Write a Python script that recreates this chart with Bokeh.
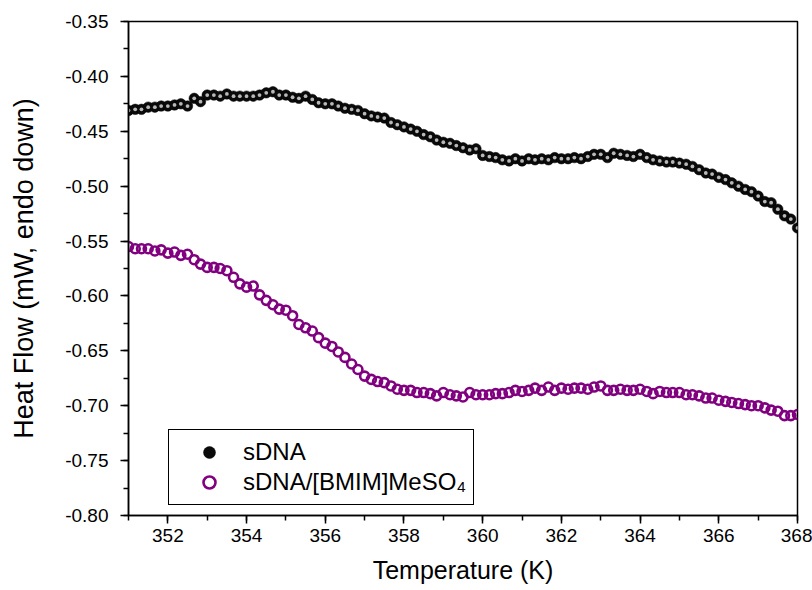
from bokeh.plotting import figure
from bokeh.models import (Range1d, SingleIntervalTicker, PrintfTickFormatter,
                          Legend, LegendItem, ColumnDataSource)
from bokeh.embed import file_html
from bokeh.resources import INLINE

# Temperature (K)
temperature = [
    351.00, 351.17, 351.33, 351.50, 351.67, 351.83,
    352.00, 352.17, 352.33, 352.50, 352.67, 352.83,
    353.00, 353.17, 353.33, 353.50, 353.67, 353.83,
    354.00, 354.17, 354.33, 354.50, 354.67, 354.83,
    355.00, 355.17, 355.33, 355.50, 355.67, 355.83,
    356.00, 356.17, 356.33, 356.50, 356.67, 356.83,
    357.00, 357.17, 357.33, 357.50, 357.67, 357.83,
    358.00, 358.17, 358.33, 358.50, 358.67, 358.83,
    359.00, 359.17, 359.33, 359.50, 359.67, 359.83,
    360.00, 360.17, 360.33, 360.50, 360.67, 360.83,
    361.00, 361.17, 361.33, 361.50, 361.67, 361.83,
    362.00, 362.17, 362.33, 362.50, 362.67, 362.83,
    363.00, 363.17, 363.33, 363.50, 363.67, 363.83,
    364.00, 364.17, 364.33, 364.50, 364.67, 364.83,
    365.00, 365.17, 365.33, 365.50, 365.67, 365.83,
    366.00, 366.17, 366.33, 366.50, 366.67, 366.83,
    367.00, 367.17, 367.33, 367.50, 367.67, 367.83,
    368.00,
]

# Heat flow (mW), sDNA
heat_sdna = [
    -0.431, -0.430, -0.430, -0.428, -0.428, -0.427,
    -0.427, -0.426, -0.425, -0.427, -0.420, -0.423,
    -0.417, -0.417, -0.418, -0.416, -0.418, -0.418,
    -0.418, -0.418, -0.417, -0.415, -0.414, -0.417,
    -0.417, -0.419, -0.420, -0.418, -0.421, -0.424,
    -0.425, -0.425, -0.427, -0.429, -0.430, -0.431,
    -0.434, -0.436, -0.437, -0.438, -0.442, -0.444,
    -0.446, -0.448, -0.450, -0.453, -0.455, -0.458,
    -0.460, -0.461, -0.463, -0.465, -0.467, -0.466,
    -0.472, -0.473, -0.474, -0.476, -0.477, -0.475,
    -0.477, -0.475, -0.476, -0.475, -0.476, -0.474,
    -0.475, -0.475, -0.474, -0.475, -0.473, -0.471,
    -0.471, -0.474, -0.470, -0.471, -0.472, -0.473,
    -0.471, -0.474, -0.476, -0.477, -0.478, -0.478,
    -0.479, -0.480, -0.482, -0.485, -0.488, -0.489,
    -0.492, -0.494, -0.497, -0.500, -0.503, -0.505,
    -0.509, -0.514, -0.515, -0.521, -0.527, -0.530,
    -0.538,
]

# Heat flow (mW), sDNA/[BMIM]MeSO4
heat_sdna_il = [
    -0.555, -0.557, -0.557, -0.557, -0.559, -0.558,
    -0.561, -0.560, -0.563, -0.562, -0.567, -0.571,
    -0.574, -0.574, -0.575, -0.577, -0.583, -0.589,
    -0.592, -0.591, -0.599, -0.604, -0.608, -0.612,
    -0.613, -0.618, -0.626, -0.629, -0.632, -0.638,
    -0.643, -0.646, -0.651, -0.656, -0.662, -0.667,
    -0.673, -0.676, -0.678, -0.679, -0.682, -0.685,
    -0.686, -0.686, -0.688, -0.688, -0.689, -0.691,
    -0.688, -0.690, -0.691, -0.692, -0.688, -0.690,
    -0.690, -0.690, -0.689, -0.689, -0.688, -0.686,
    -0.687, -0.686, -0.684, -0.686, -0.683, -0.686,
    -0.684, -0.685, -0.684, -0.684, -0.685, -0.683,
    -0.682, -0.686, -0.686, -0.685, -0.686, -0.686,
    -0.685, -0.687, -0.689, -0.687, -0.688, -0.688,
    -0.688, -0.690, -0.690, -0.691, -0.693, -0.693,
    -0.695, -0.696, -0.697, -0.698, -0.699, -0.700,
    -0.700, -0.702, -0.704, -0.705, -0.709, -0.709,
    -0.708,
]

series_labels = ["sDNA", "sDNA/[BMIM]MeSO\u2084"]
x_title = "Temperature (K)"
y_title = "Heat Flow (mW, endo down)"

FONT = "Liberation Sans"

src = ColumnDataSource(dict(t=temperature, a=heat_sdna, b=heat_sdna_il))

p = figure(width=812, height=590, output_backend="svg", toolbar_location=None,
           x_range=Range1d(351, 368), y_range=Range1d(-0.80, -0.35),
           min_border_left=128, min_border_right=15, min_border_top=21,
           min_border_bottom=75, background_fill_color="white",
           border_fill_color="white")

p.xgrid.visible = False
p.ygrid.visible = False
p.outline_line_color = "black"
p.outline_line_width = 1.5
p.outline_line_alpha = 1

p.xaxis.ticker = SingleIntervalTicker(interval=2, num_minor_ticks=2)
p.yaxis.ticker = SingleIntervalTicker(interval=0.05, num_minor_ticks=2)
p.xaxis.formatter = PrintfTickFormatter(format="%d")
p.yaxis.formatter = PrintfTickFormatter(format="%.2f")

for ax in (p.xaxis[0], p.yaxis[0]):
    ax.axis_line_color = "black"
    ax.axis_line_width = 1.5
    ax.major_tick_line_color = "black"
    ax.major_tick_line_width = 1.5
    ax.minor_tick_line_color = "black"
    ax.minor_tick_line_width = 1.5
    ax.major_tick_in = 0
    ax.major_tick_out = 8
    ax.minor_tick_in = 0
    ax.minor_tick_out = 5
    ax.major_label_text_font = FONT
    ax.major_label_text_font_size = "19px"
    ax.major_label_text_color = "black"
    ax.axis_label_text_font = FONT
    ax.axis_label_text_font_style = "normal"
    ax.axis_label_text_color = "black"

p.xaxis.axis_label_text_font_size = "25px"
p.yaxis.axis_label_text_font_size = "27px"
p.xaxis.axis_label = x_title
p.yaxis.axis_label = y_title
p.xaxis.major_label_standoff = 5
p.xaxis.axis_label_standoff = 11
p.yaxis.major_label_standoff = 12
p.yaxis.axis_label_standoff = 23

r_black = p.scatter("t", "a", source=src, marker="circle", size=10.5,
                    fill_color="#0a0a0a", line_color="#000000", line_width=0.5)
p.scatter("t", "a", source=src, marker="circle", size=3.8,
          fill_color="#b8b8b8", line_color=None)
r_purple = p.scatter("t", "b", source=src, marker="circle", size=9,
                     fill_color=None, line_color="#800080", line_width=2.6)

legend = Legend(items=[LegendItem(label=series_labels[0], renderers=[r_black]),
                       LegendItem(label=series_labels[1], renderers=[r_purple])],
                location=(40, 10), border_line_color="black", border_line_width=1,
                border_line_alpha=1, padding=7, spacing=0, margin=0,
                glyph_width=66, glyph_height=30, label_height=30, label_standoff=1,
                label_text_font=FONT, label_text_font_size="24px",
                label_text_color="black", background_fill_color="white",
                background_fill_alpha=1)
p.add_layout(legend)

open("out.html", "w").write(file_html(p, INLINE))
